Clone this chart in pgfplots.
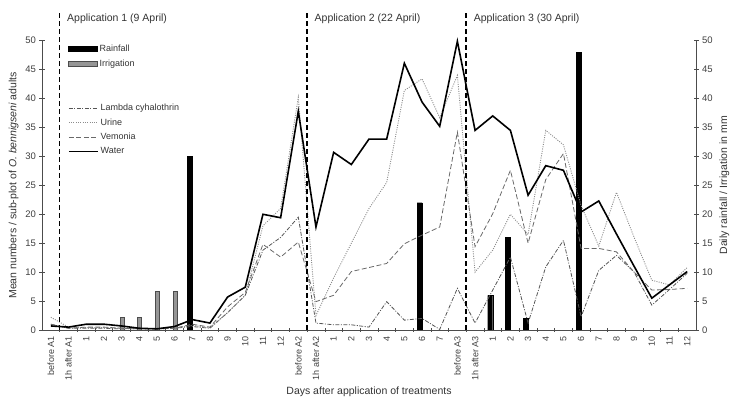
\documentclass[border=0pt]{standalone}
\usepackage{fontspec}
\setmainfont{Liberation Sans}
\usepackage{pgfplots}
\pgfplotsset{compat=1.18}
\usepackage{pgfplotstable}

\definecolor{lambdagray}{RGB}{85,85,85}
\definecolor{urinegray}{RGB}{140,140,140}
\definecolor{vemgray}{RGB}{105,105,105}
\definecolor{irrgray}{RGB}{150,150,150}

% idx: 0 before A1, 1 1h after A1, 2-13 days 1-12, 14 before A2, 15 1h after A2,
% 16-22 days 1-7, 23 before A3, 24 1h after A3, 25-36 days 1-12
\pgfplotstableread{
idx water urine vemonia lambda
0  0.7  2.2  1.0  1.0
1  0.5  0.5  0.3  0.3
2  1.0  0.4  0.5  0.3
3  1.0  0.4  0.5  0.3
4  0.7  0.3  0.3  0.2
5  0.3  0.2  0.2  0.2
6  0.2  0.2  0.2  0.2
7  0.6  0.3  0.3  0.3
8  1.8  0.8  1.0  0.6
9  1.2  0.4  0.5  0.3
10 5.7  3.0  4.0  3.0
11 7.4  6.0  6.5  6.0
12 20.0 18.0 14.8 13.8
13 19.4 21.0 12.6 16.0
14 37.8 40.2 15.2 19.5
15 17.8 2.5  4.9  1.2
16 30.7 9.0  6.0  0.9
17 28.6 15.0 10.1 0.9
18 33.0 21.0 10.8 0.5
19 33.0 25.5 11.5 4.9
20 46.1 41.4 14.9 1.7
21 39.4 43.4 16.4 2.0
22 35.2 36.7 17.8 0.1
23 49.9 44.0 34.2 7.2
24 34.5 10.0 14.4 1.2
25 37.0 13.8 20.1 6.9
26 34.5 20.0 27.6 12.6
27 23.3 16.5 15.0 1.2
28 28.4 34.5 26.0 10.9
29 27.6 32.0 30.5 15.5
30 20.4 21.5 14.1 2.3
31 22.3 14.5 14.1 10.3
32 16.6 23.8 13.5 12.9
33 11.0 16.0 10.0 10.0
34 5.5  8.6  6.9  4.3
35 7.8  7.8  7.0  7.0
36 10.1 10.8 7.2  9.8
}\pests

\pgfplotstableread{
idx rain
8  30
21 22
25 6
26 16
27 2
30 48
}\rain

\pgfplotstableread{
idx irr
4 2.2
5 2.2
6 6.7
7 6.7
}\irrig

\begin{document}
\begin{tikzpicture}[x=1pt,y=1pt]
\pgfplotsset{
  base/.style={
    scale only axis,
    width=654pt,
    height=289.3pt,
    at={(0,0)},
    anchor=south west,
    xmin=-0.5, xmax=36.5,
    ymin=0, ymax=50,
    ytick={0,5,...,50},
    tick align=center,
    major tick length=5pt,
    /pgf/number format/assume math mode=true,
    tick label style={font=\fontsize{9.5}{11}\selectfont, color=black!75},
    label style={font=\fontsize{10.5}{12}\selectfont, color=black!80},
    axis line style={black!70, line width=0.6pt},
    every tick/.style={black!70, line width=0.6pt},
    clip=false,
  }
}

% rainfall / irrigation on the right axis
\begin{axis}[base,
  axis x line=none,
  axis y line*=right,
  ylabel={Daily rainfall / Irrigation in mm},
  legend style={at={(0.035,1.0)}, anchor=north west, draw=none, fill=none,
    font=\fontsize{9}{10}\selectfont, row sep=3pt, text=black!80},
  legend cell align=left,
  legend image code/.code={\draw[#1] (0pt,-2.3pt) rectangle (29pt,2.3pt);},
]
\addplot[ybar, bar width=5pt, bar shift=-2.5pt, fill=black, draw=black]
  table[x=idx, y=rain] {\rain};
\addlegendentry{Rainfall}
\addplot[ybar, bar width=4pt, bar shift=0.5pt, fill=irrgray, draw=black!70, line width=0.5pt]
  table[x=idx, y=irr] {\irrig};
\addlegendentry{Irrigation}
\end{axis}

% pest numbers on the left axis
\begin{axis}[base,
  axis x line*=bottom,
  axis y line*=left,
  xtick={0,...,36},
  xticklabels={before A1,1h after A1,1,2,3,4,5,6,7,8,9,10,11,12,
    before A2,1h after A2,1,2,3,4,5,6,7,
    before A3,1h after A3,1,2,3,4,5,6,7,8,9,10,11,12},
  x tick label style={rotate=90, anchor=east, font=\fontsize{9}{10}\selectfont},
  major x tick style={draw=none},
  minor x tick num=1,
  minor tick length=3pt,
  xlabel={Days after application of treatments},
  ylabel={Mean numbers / sub-plot of \textit{O. bennigseni} adults},
  legend style={at={(0.035,0.795)}, anchor=north west, draw=none, fill=none,
    font=\fontsize{9}{10}\selectfont, row sep=2.5pt, text=black!80},
  legend cell align=left,
  legend image code/.code={\draw[#1] (0pt,0pt) -- (29pt,0pt);},
]
\addplot[lambdagray, line width=0.8pt, dash pattern=on 4pt off 1.5pt on 1pt off 1.5pt]
  table[x=idx, y=lambda] {\pests};
\addlegendentry{Lambda cyhalothrin}
\addplot[urinegray, line width=0.9pt, dash pattern=on 1pt off 1.3pt]
  table[x=idx, y=urine] {\pests};
\addlegendentry{Urine}
\addplot[vemgray, line width=0.8pt, dash pattern=on 5pt off 2.5pt]
  table[x=idx, y=vemonia] {\pests};
\addlegendentry{Vemonia}
\addplot[black, line width=1.6pt]
  table[x=idx, y=water] {\pests};
\addlegendentry{Water}

\draw[black, line width=1.6pt, dash pattern=on 5pt off 3pt] (axis cs:0.5,0) -- (axis cs:0.5,55.3);
\draw[black, line width=1.6pt, dash pattern=on 5pt off 3pt] (axis cs:14.5,0) -- (axis cs:14.5,55.3);
\draw[black, line width=1.6pt, dash pattern=on 5pt off 3pt] (axis cs:23.5,0) -- (axis cs:23.5,55.3);
\node[anchor=west, font=\fontsize{10.5}{12}\selectfont, text=black!80, xshift=4pt] at (axis cs:0.5,53.8) {Application 1 (9 April)};
\node[anchor=west, font=\fontsize{10.5}{12}\selectfont, text=black!80, xshift=4pt] at (axis cs:14.5,53.8) {Application 2 (22 April)};
\node[anchor=west, font=\fontsize{10.5}{12}\selectfont, text=black!80, xshift=4pt] at (axis cs:23.5,53.8) {Application 3 (30 April)};
\end{axis}

\pgfresetboundingbox
\path[use as bounding box] (-42,-71) rectangle (688,330);
\end{tikzpicture}
\end{document}
